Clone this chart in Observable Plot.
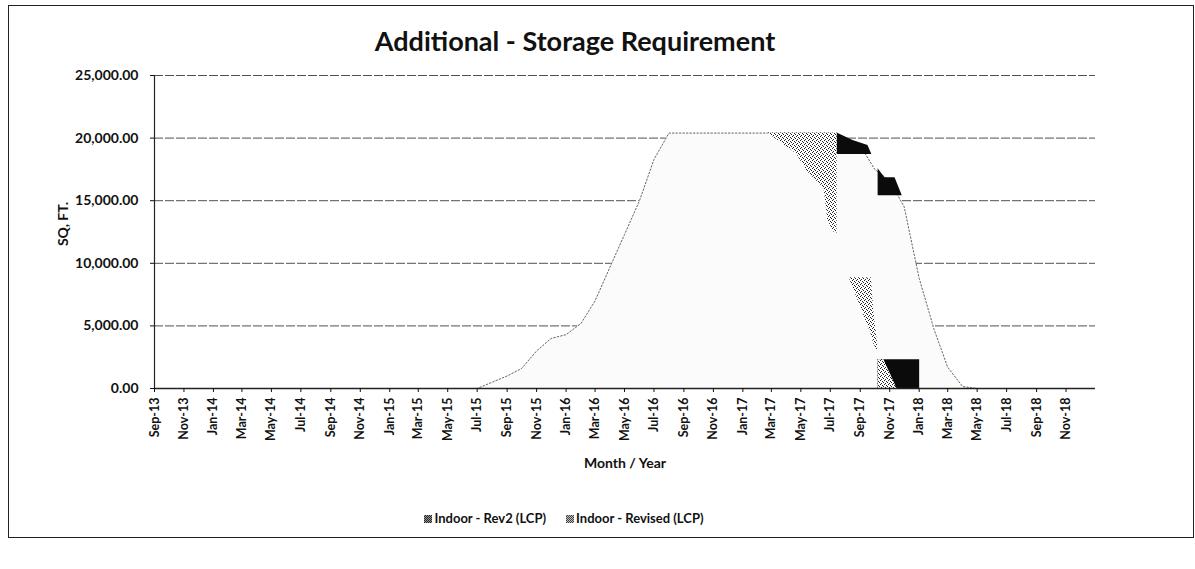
<!DOCTYPE html>
<html>
<head>
<meta charset="utf-8">
<script src="https://cdn.jsdelivr.net/npm/d3@7"></script>
<script src="https://cdn.jsdelivr.net/npm/@observablehq/plot@0.6"></script>
<style>
  html, body { margin: 0; padding: 0; background: #fff; }
  #wrap { position: relative; width: 1195px; height: 569px; overflow: hidden; font-family: Lato, "Open Sans", sans-serif; color: #111; }
  #frame { position: absolute; left: 8px; top: 5px; width: 1186px; height: 533px; border: 1.5px solid #222; box-sizing: border-box; }
  #title { position: absolute; left: 0; width: 1150px; top: 24px; text-align: center; font-weight: bold; font-size: 27px; line-height: 34px; }
  #ytitle { position: absolute; left: 62px; top: 224px; transform: translate(-50%, -50%) rotate(-90deg); font-weight: bold; font-size: 14px; white-space: nowrap; }
  #xtitle { position: absolute; left: 625px; top: 462px; transform: translate(-50%, -50%); font-weight: bold; font-size: 14px; white-space: nowrap; }
  #legend { position: absolute; left: 0; width: 1128px; top: 510px; text-align: center; font-size: 13px; font-weight: bold; white-space: nowrap; }
  #legend span.item { display: inline-block; margin: 0 10px; }
  #legend i { display: inline-block; width: 8px; height: 8px; margin-right: 2px; vertical-align: 0px; }
  svg { position: absolute; left: 0; top: 0; }
</style>
</head>
<body>
<div id="wrap">
  <div id="frame"></div>
  <div id="title"></div>
  <div id="ytitle"></div>
  <div id="xtitle"></div>
  <div id="legend"></div>
</div>
<script>
// ---------- data ----------
const chartTitle = "Additional - Storage Requirement";
const yTitle = "SQ, FT.";
const xTitle = "Month / Year";
const seriesNames = ["Indoor - Rev2 (LCP)", "Indoor - Revised (LCP)"];

// x tick labels (every 2 months)
const xTickLabels = ["Sep-13","Nov-13","Jan-14","Mar-14","May-14","Jul-14","Sep-14","Nov-14",
  "Jan-15","Mar-15","May-15","Jul-15","Sep-15","Nov-15","Jan-16","Mar-16","May-16","Jul-16",
  "Sep-16","Nov-16","Jan-17","Mar-17","May-17","Jul-17","Sep-17","Nov-17","Jan-18","Mar-18",
  "May-18","Jul-18","Sep-18","Nov-18"];
const yTicks = [0, 5000, 10000, 15000, 20000, 25000];

// Indoor - Revised (LCP): monthly values Sep-13 .. Dec-18 (sq ft)
const revisedValues = [
  0,0,0,0,0,0,0,0,0,0,0,0,0,0,0,0,0,0,0,0,0,0,0,   // Sep-13 .. Jul-15
  500,1000,1600,3000,4000,4300,5200,7000,9700,12300,15000,18300,20400, // Aug-15 .. Aug-16
  20400,20400,20400,20400,20400,20400,20400,20400,20400,20400,20400,    // Sep-16 .. Jul-17
  19900,19400,17500,16600,14500,8800,4700,1700,150,                      // Aug-17 .. Apr-18
  0,0,0,0,0,0,0,0                                                        // May-18 .. Dec-18
];

// Indoor - Revised (LCP): shaded (stippled) portions [date, low, high]
const revisedShade = [
  { id: "w1", points: [["2017-02-21",20400,20400],["2017-04-22",18750,20400],["2017-05-13",17400,20400],
                       ["2017-06-18",16000,20400],["2017-06-26",13400,20400],["2017-07-10",12400,20400],["2017-07-15",12400,20400]] },
  { id: "w2", points: [["2017-08-09",8840,8840],["2017-09-05",6200,8840],["2017-09-24",4300,8840],
                       ["2017-09-29",3560,6200],["2017-10-07",3000,3560]] },
  { id: "w3", points: [["2017-10-08",0,2300],["2017-10-20",0,2300],["2017-11-16",0,0]] }
];

// Indoor - Rev2 (LCP): dark portions [date, low, high]
const rev2Bands = [
  { id: "a", points: [["2017-07-15",18700,20400],["2017-08-17",18700,19800],["2017-09-17",18700,19400],["2017-09-25",18700,18700]] },
  { id: "b", points: [["2017-10-08",15400,17560],["2017-10-22",15400,16840],["2017-11-12",15400,16840],["2017-11-27",15400,15400]] },
  { id: "c", points: [["2017-10-08",0,2300],["2018-01-02",0,2300]] }
];

// ---------- build ----------
const parseDay = d3.utcParse("%Y-%m-%d");
const parseTick = d3.utcParse("%b-%y");
const xStart = new Date(Date.UTC(2013, 8, 1));
const xEnd = new Date(Date.UTC(2019, 0, 1));
const monthDates = d3.utcMonths(xStart, xEnd);
const revisedData = monthDates.map((d, i) => ({ date: d, value: revisedValues[i] }));
const flatten = segs => segs.flatMap(s => s.points.map(p => ({ seg: s.id, date: parseDay(p[0]), low: p[1], high: p[2] })));
const shadeData = flatten(revisedShade);
const rev2Data = flatten(rev2Bands);
const tickDates = xTickLabels.map(parseTick);

const svg = Plot.plot({
  width: 1195,
  height: 480,
  marginLeft: 154,
  marginRight: 100,
  marginTop: 75,
  marginBottom: 92,
  x: { type: "utc", domain: [xStart, xEnd] },
  y: { domain: [0, 25000] },
  style: { fontFamily: "Lato, 'Open Sans', sans-serif", color: "#111", background: "transparent", overflow: "visible" },
  marks: [
    Plot.gridY(yTicks, { stroke: "#333", strokeOpacity: 0.85, strokeWidth: 1, strokeDasharray: "9,2" }),
    Plot.areaY(revisedData, { x: "date", y: "value", fill: "#fbfbfb" }),
    Plot.lineY(revisedData, { x: "date", y: "value", stroke: "#666", strokeWidth: 1, strokeDasharray: "1.5,2" }),
    Plot.areaY(rev2Data, { x: "date", y1: "low", y2: "high", z: "seg", fill: "#0b0b0b" }),
    Plot.areaY(shadeData, { x: "date", y1: "low", y2: "high", z: "seg", fill: "url(#stipple)" }),
    Plot.ruleX([xStart], { stroke: "#222", strokeWidth: 1.2 }),
    Plot.ruleY([0], { stroke: "#222", strokeWidth: 1.5 }),
    Plot.axisY(yTicks, { tickFormat: d3.format(",.2f"), tickSize: 4, tickPadding: 12, fontSize: 14, fontWeight: "bold", label: null }),
    Plot.axisX(tickDates, { tickFormat: d3.utcFormat("%b-%y"), tickRotate: -90, tickSize: 4, tickPadding: 5, fontSize: 12.5, fontWeight: "bold", label: null })
  ]
});

// stipple pattern to mimic the halftone shading
const defs = d3.select(svg).insert("defs", ":first-child");
const pat = defs.append("pattern").attr("id", "stipple").attr("width", 4).attr("height", 4).attr("patternUnits", "userSpaceOnUse");
pat.append("rect").attr("width", 4).attr("height", 4).attr("fill", "#fff");
[[0,0],[2,1],[1,3],[3,2]].forEach(([px, py]) => pat.append("rect").attr("x", px).attr("y", py).attr("width", 1).attr("height", 1).attr("fill", "#222"));

const wrap = document.getElementById("wrap");
wrap.appendChild(svg);
document.getElementById("title").textContent = chartTitle;
document.getElementById("ytitle").textContent = yTitle;
document.getElementById("xtitle").textContent = xTitle;

const swatchStyles = [
  "background: repeating-conic-gradient(#222 0 25%, #999 0 50%) 0 0/2px 2px;",
  "background: repeating-conic-gradient(#444 0 25%, #bbb 0 50%) 0 0/2px 2px;"
];
const legend = document.getElementById("legend");
seriesNames.forEach((name, i) => {
  const item = document.createElement("span");
  item.className = "item";
  const sw = document.createElement("i");
  sw.setAttribute("style", swatchStyles[i]);
  item.appendChild(sw);
  item.appendChild(document.createTextNode(name));
  legend.appendChild(item);
});
</script>
</body>
</html>
